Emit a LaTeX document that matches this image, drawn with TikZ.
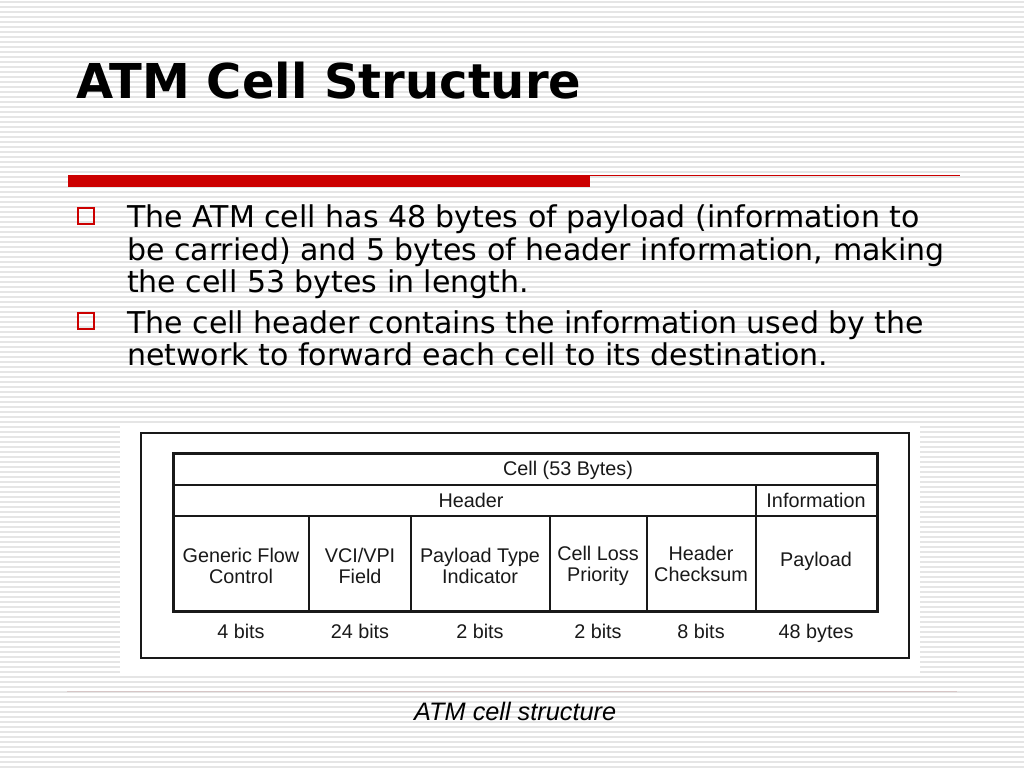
\documentclass[tikz,border=0pt]{standalone}
\usepackage{fontspec}
\setmainfont{DejaVu Sans}
\newfontfamily\arialfont{Liberation Sans}
\usetikzlibrary{calc}
\definecolor{SlideRed}{RGB}{204,0,0}
\definecolor{StripeGray}{RGB}{229,229,229}
\definecolor{RuleGray}{RGB}{214,198,198}
\definecolor{InkGray}{RGB}{25,25,25}
\tikzstyle{Stripe}=[StripeGray, line width=1.5pt]
\tikzstyle{BulletBox}=[draw=SlideRed, line width=2.4pt, minimum size=16pt, inner sep=0pt]
\tikzstyle{BulletText}=[anchor=north west, inner sep=0pt, align=left, font=\fontsize{30}{32.5}\selectfont]
\tikzstyle{FieldText}=[inner sep=0pt, align=center, text=InkGray, font=\arialfont\fontsize{19.8}{21.5}\selectfont]
\tikzstyle{SizeText}=[FieldText, anchor=base]
\tikzstyle{TableEdge}=[line width=2pt, InkGray]
\tikzstyle{FrameEdge}=[TableEdge, line width=3pt]
\tikzset{>=latex}

\begin{document}
\begin{tikzpicture}[x=1pt, y=-1pt]
\useasboundingbox (0,0) rectangle (1024,768);
\fill[white] (0,0) rectangle (1024,768);
\foreach \y in {2,7,...,767}
  \draw[Stripe] (0,\y) -- (1024,\y);

\node[anchor=base west, inner sep=0pt, font=\bfseries\fontsize{48}{58}\selectfont] (Title) at (76,98) {ATM Cell Structure};
\fill[SlideRed] (68,175) rectangle (590,187);
\draw[SlideRed, line width=1.2pt] (590,175.6) -- (960,175.6);

\node[BulletBox] (Box1) at (86,216) {};
\node[BulletText] (Point1) at (127,205) {The ATM cell has 48 bytes of payload (information to\\be carried) and 5 bytes of header information, making\\the cell 53 bytes in length.};
\node[BulletBox] (Box2) at (86,321) {};
\node[BulletText] (Point2) at (127,310.5) {The cell header contains the information used by the\\network to forward each cell to its destination.};

\fill[white] (120,423) rectangle (920,673);
\draw[TableEdge] (141,433) rectangle (909,658);
\draw[FrameEdge] (173,453) rectangle (877,611);
\draw[TableEdge] (173,485) -- (877,485);
\draw[TableEdge] (173,516) -- (877,516);
\draw[TableEdge] (756,485) -- (756,611);
\foreach \x in {309,411,550,647}
  \draw[TableEdge] (\x,516) -- (\x,611);

\node[FieldText] (Cell) at (568,470) {Cell (53 Bytes)};
\node[FieldText] (Header) at (471,500) {Header};
\node[FieldText] (Information) at (816,500) {Information};

\node[FieldText] (GFC) at (241,566) {Generic Flow\\Control};
\node[FieldText] (VPI) at (360,566) {VCI/VPI\\Field};
\node[FieldText] (PTI) at (480,566) {Payload Type\\Indicator};
\node[FieldText] (CLP) at (598,566) {Cell Loss\\Priority};
\node[FieldText] (HEC) at (701,564) {Header\\Checksum};
\node[FieldText] (Payload) at (816,561) {Payload};

\node[SizeText] (GFCsize) at (241,638) {4 bits};
\node[SizeText] (VPIsize) at (360,638) {24 bits};
\node[SizeText] (PTIsize) at (480,638) {2 bits};
\node[SizeText] (CLPsize) at (598,638) {2 bits};
\node[SizeText] (HECsize) at (701,638) {8 bits};
\node[SizeText] (Payloadsize) at (816,638) {48 bytes};

\draw[RuleGray, line width=1pt] (67,691.5) -- (957,691.5);
\node[anchor=base west, inner sep=0pt, font=\arialfont\itshape\fontsize{25.3}{28}\selectfont] (Caption) at (414,720) {ATM cell structure};
\end{tikzpicture}
\end{document}
